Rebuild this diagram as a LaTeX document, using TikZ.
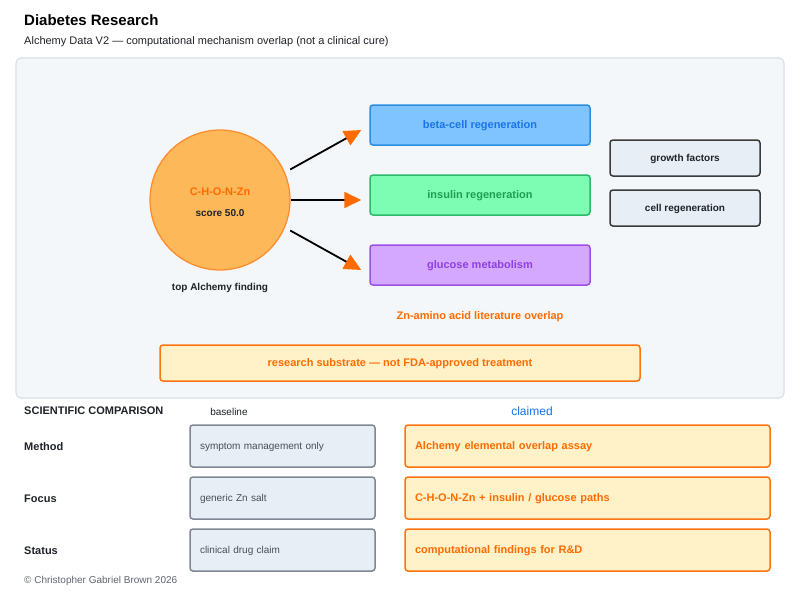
\documentclass[tikz,border=0pt]{standalone}
\usepackage{fontspec}
\setmainfont{Liberation Sans}
\usetikzlibrary{arrows.meta}
\definecolor{panelfill}{HTML}{F4F7FA}
\definecolor{paneledge}{HTML}{D8E1EA}
\definecolor{circfill}{HTML}{FDB85A}
\definecolor{circedge}{HTML}{FF8A2B}
\definecolor{orangetext}{HTML}{FF6B00}
\definecolor{betafill}{HTML}{80C4FF}
\definecolor{betaedge}{HTML}{2A8FE0}
\definecolor{betatext}{HTML}{1A73E8}
\definecolor{insfill}{HTML}{7CFDB3}
\definecolor{insedge}{HTML}{2DB86A}
\definecolor{instext}{HTML}{1E9E50}
\definecolor{glufill}{HTML}{D4A8FF}
\definecolor{gluedge}{HTML}{9B50E6}
\definecolor{glutext}{HTML}{8E3FDF}
\definecolor{greyfill}{HTML}{E8EEF5}
\definecolor{darkedge}{HTML}{3A3A3A}
\definecolor{baseedge}{HTML}{7E8794}
\definecolor{basetext}{HTML}{4A4F57}
\definecolor{yellowfill}{HTML}{FFF2C9}
\definecolor{yellowedge}{HTML}{FF7410}
\definecolor{darktext}{HTML}{1F2328}
\definecolor{foottext}{HTML}{5F6670}
\begin{document}
\begin{tikzpicture}[
  box/.style={draw,rounded corners=3pt,line width=1.5pt,minimum height=40pt,minimum width=220pt,
    text depth=0pt,font=\fontsize{11}{13}\selectfont\bfseries},
  sidebox/.style={draw=darkedge,fill=greyfill,rounded corners=3pt,line width=1.5pt,text depth=0pt,
    minimum height=36pt,minimum width=150pt,text=darktext,font=\fontsize{10}{12}\selectfont\bfseries},
  basebox/.style={draw=baseedge,fill=greyfill,rounded corners=3pt,line width=1.5pt,text depth=0pt,
    minimum height=42pt,minimum width=185pt,text=basetext,text width=165pt,align=left,
    font=\fontsize{10}{12}\selectfont},
  claimbox/.style={draw=yellowedge,fill=yellowfill,rounded corners=3pt,line width=1.5pt,text depth=0pt,
    minimum height=42pt,minimum width=365pt,text=orangetext,text width=345pt,align=left,
    font=\fontsize{11}{13}\selectfont\bfseries},
  rowlabel/.style={anchor=west,text=darktext,font=\fontsize{11}{13}\selectfont\bfseries},
  arr/.style={line width=1.8pt,black,-{Triangle[length=17pt,width=16pt,color=orangetext]}}
]
\fill[white] (0pt,0pt) rectangle (800pt,-600pt);
\useasboundingbox (0pt,0pt) rectangle (800pt,-600pt);

\node[anchor=west,text=black,font=\fontsize{15}{18}\selectfont\bfseries] (title) at (20.7pt,-20pt) {Diabetes Research};
\node[anchor=west,text=darktext,font=\fontsize{11}{13}\selectfont] (subtitle) at (20.7pt,-42pt) {Alchemy Data V2 --- computational mechanism overlap (not a clinical cure)};

\draw[draw=paneledge,fill=panelfill,line width=1.2pt,rounded corners=5pt] (16pt,-58pt) rectangle (784pt,-398pt);

\node[circle,draw=circedge,fill=circfill,line width=1.2pt,minimum size=140pt] (finding) at (220pt,-200pt) {};
\node[text=orangetext,font=\fontsize{11}{13}\selectfont\bfseries] (formula) at (220pt,-192pt) {C-H-O-N-Zn};
\node[text=darktext,font=\fontsize{10}{12}\selectfont\bfseries] (score) at (220pt,-213pt) {score 50.0};
\node[text=darktext,font=\fontsize{10}{12}\selectfont\bfseries] (toplabel) at (220pt,-288pt) {top Alchemy finding};

\node[box,draw=betaedge,fill=betafill,text=betatext] (beta) at (480pt,-125pt) {beta-cell regeneration};
\node[box,draw=insedge,fill=insfill,text=instext] (insulin) at (480pt,-195pt) {insulin regeneration};
\node[box,draw=gluedge,fill=glufill,text=glutext] (glucose) at (480pt,-265pt) {glucose metabolism};

\draw[arr,shorten <=6pt] (finding.23) -- ([shift={(-8pt,-5pt)}]beta.west);
\draw[arr] (finding.east) -- ([shift={(-8pt,-5pt)}]insulin.west);
\draw[arr,shorten <=6pt] (finding.-23) -- ([shift={(-8pt,-5pt)}]glucose.west);

\node[sidebox] (growth) at (685pt,-158pt) {growth factors};
\node[sidebox] (cellreg) at (685pt,-208pt) {cell regeneration};

\node[text=orangetext,font=\fontsize{11}{13}\selectfont\bfseries] (overlap) at (480pt,-317pt) {Zn-amino acid literature overlap};
\node[box,draw=yellowedge,fill=yellowfill,text=orangetext,minimum width=480pt,minimum height=36pt] (substrate) at (400pt,-363pt) {research substrate --- not FDA-approved treatment};

\node[rowlabel] (compare) at (20.7pt,-411pt) {SCIENTIFIC COMPARISON};
\node[text=darktext,font=\fontsize{10}{12}\selectfont] (baseline) at (229pt,-412pt) {baseline};
\node[text=betatext,font=\fontsize{12}{14}\selectfont] (claimed) at (532pt,-411pt) {claimed};

\node[rowlabel] (method) at (20.7pt,-447pt) {Method};
\node[rowlabel] (focus) at (20.7pt,-499pt) {Focus};
\node[rowlabel] (status) at (20.7pt,-551pt) {Status};

\node[basebox] (basemethod) at (282.5pt,-446pt) {symptom management only};
\node[basebox] (basefocus) at (282.5pt,-498pt) {generic Zn salt};
\node[basebox] (basestatus) at (282.5pt,-550pt) {clinical drug claim};

\node[claimbox] (claimmethod) at (587.5pt,-446pt) {Alchemy elemental overlap assay};
\node[claimbox] (claimfocus) at (587.5pt,-498pt) {C-H-O-N-Zn + insulin / glucose paths};
\node[claimbox] (claimstatus) at (587.5pt,-550pt) {computational findings for R\&D};

\node[anchor=west,text=foottext,font=\fontsize{10}{12}\selectfont] (footer) at (20.7pt,-581pt) {\textcopyright{} Christopher Gabriel Brown 2026};
\end{tikzpicture}
\end{document}
